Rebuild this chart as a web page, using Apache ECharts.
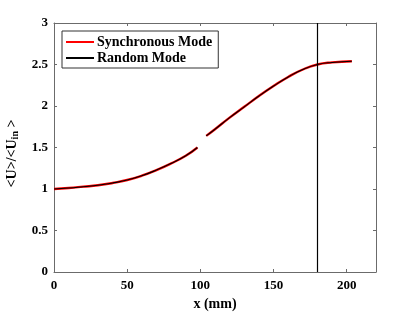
<!DOCTYPE html>
<html>
<head>
<meta charset="utf-8">
<script src="https://cdn.jsdelivr.net/npm/echarts@6/dist/echarts.min.js"></script>
<style>html,body{margin:0;padding:0;background:#fff}#c{width:415px;height:312px}</style>
</head>
<body>
<div id="c"></div>
<script>
// Data
var seg1X = [0, 10, 20, 30, 40, 50, 60, 70, 80, 90, 98];
var seg1Y = [1.00, 1.012, 1.028, 1.045, 1.072, 1.108, 1.16, 1.228, 1.308, 1.40, 1.50];
var seg2X = [104, 110, 120, 130, 140, 150, 160, 170, 180, 190, 203.5];
var seg2Y = [1.64, 1.72, 1.86, 1.99, 2.12, 2.24, 2.35, 2.44, 2.50, 2.525, 2.54];
var syncLabel = 'Synchronous Mode';
var randLabel = 'Random Mode';
var vLineX = 180;
var xTicks = [0, 50, 100, 150, 200];
var yTicks = [0, 0.5, 1, 1.5, 2, 2.5, 3];

function buildData() {
  var d = [];
  for (var i = 0; i < seg1X.length; i++) d.push([seg1X[i], seg1Y[i]]);
  d.push([101, null]);
  for (var j = 0; j < seg2X.length; j++) d.push([seg2X[j], seg2Y[j]]);
  return d;
}
var curve = buildData();

var font = 'Liberation Serif';
var axisCol = '#6b6b6b';
function frameAxis(extra) {
  var base = {
    axisLine: {show: true, onZero: false, lineStyle: {color: axisCol, width: 1}},
    axisTick: {show: true, inside: true, length: 3, lineStyle: {color: axisCol}},
    splitLine: {show: false}
  };
  for (var k in extra) base[k] = extra[k];
  return base;
}
var chart = echarts.init(document.getElementById('c'), null, {renderer: 'canvas'});
chart.setOption({
  animation: false,
  backgroundColor: '#fff',
  grid: {left: 54, right: 39, top: 23, bottom: 40, containLabel: false, outerBoundsMode: 'none'},
  legend: {
    orient: 'vertical', left: 62, top: 31,
    padding: [4, 6, 3, 4], itemGap: 2,
    itemWidth: 28, itemHeight: 2,
    borderColor: '#333', borderWidth: 1, backgroundColor: '#fff',
    textStyle: {fontFamily: font, fontWeight: 'bold', fontSize: 14, color: '#000', padding: [0,0,0,-2]},
    data: [{name: syncLabel, icon: 'rect'}, {name: randLabel, icon: 'rect'}]
  },
  xAxis: [frameAxis({
    type: 'value', min: 0, max: 220, interval: 50, position: 'bottom',
    name: 'x (mm)', nameLocation: 'middle', nameGap: 25,
    nameTextStyle: {fontFamily: font, fontWeight: 'bold', fontSize: 14, color: '#000'},
    axisLabel: {fontFamily: font, fontWeight: 'bold', fontSize: 13, color: '#000', margin: 7,
      showMaxLabel: false,
      formatter: function (v) { return xTicks.indexOf(v) >= 0 ? String(v) : ''; }}
  }), frameAxis({
    type: 'value', min: 0, max: 220, interval: 50, position: 'top',
    axisLabel: {show: false}
  })],
  yAxis: [frameAxis({
    type: 'value', min: 0, max: 3, interval: 0.5, position: 'left',
    name: '{a|<U>/<U}{s|in}{a| >}', nameLocation: 'middle', nameGap: 33, nameRotate: 90,
    nameTextStyle: {
      padding: [0, 12, 0, 0],
      rich: {
        a: {fontFamily: font, fontWeight: 'bold', fontSize: 14, color: '#000'},
        s: {fontFamily: font, fontWeight: 'bold', fontSize: 10, color: '#000', verticalAlign: 'bottom', padding: [6, 0, 0, 0]}
      }
    },
    axisLabel: {fontFamily: font, fontWeight: 'bold', fontSize: 13, color: '#000', margin: 6,
      formatter: function (v) { return yTicks.indexOf(v) >= 0 ? String(v) : ''; }}
  }), frameAxis({
    type: 'value', min: 0, max: 3, interval: 0.5, position: 'right',
    axisLabel: {show: false}
  })],
  series: [{
    name: syncLabel, type: 'line', data: curve, smooth: true, showSymbol: false,
    connectNulls: false, color: '#ff0000',
    lineStyle: {color: '#ff0000', width: 2.4}
  }, {
    name: randLabel, type: 'line', data: curve, smooth: true, showSymbol: false,
    connectNulls: false, color: '#000000',
    lineStyle: {color: '#000000', width: 1.1},
    markLine: {
      silent: true, symbol: 'none', label: {show: false},
      lineStyle: {color: '#000', width: 1.2, type: 'solid'},
      data: [{xAxis: vLineX}]
    }
  }]
});
</script>
</body>
</html>
